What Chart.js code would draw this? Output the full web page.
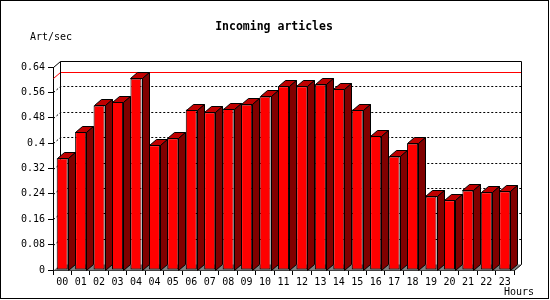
<!DOCTYPE html>
<html>
<head>
<meta charset="utf-8">
<script src="https://cdn.jsdelivr.net/npm/chart.js@4.4.1/dist/chart.umd.min.js"></script>
<style>
  html, body { margin: 0; padding: 0; background: #fff; }
  canvas { display: block; }
</style>
</head>
<body>
<canvas id="articlesChart" width="550" height="300"></canvas>
<script>
// hour labels as printed under the bars (the "04" really appears twice)
const hours = ['00', '01', '02', '03', '04', '04', '05', '06', '07', '08', '09', '10',
  '11', '12', '13', '14', '15', '16', '17', '18', '19', '20', '21', '22', '23'];

// incoming articles per second
const rates = [0.352, 0.435, 0.519, 0.531, 0.604, 0.393, 0.415, 0.506, 0.497, 0.509,
  0.522, 0.547, 0.579, 0.579, 0.585, 0.572, 0.506, 0.424, 0.358, 0.399,
  0.232, 0.220, 0.251, 0.245, 0.248];

const yMax = 0.64;
const yStep = 0.08;

const DX = 7, DY = -6; // depth of the 3d look
const monoFont = '"DejaVu Sans Mono", "Liberation Mono", monospace';

function px(v) {
  return Math.round(v) + 0.5;
}

// back wall, floor, dotted grid and the max line (behind the bars)
const backWall = {
  id: 'backWall',
  beforeDatasetsDraw(chart) {
    const { ctx, chartArea: a, scales: { y } } = chart;
    const L = px(a.left), R = px(a.right), T = px(a.top), B = px(a.bottom);
    ctx.save();
    ctx.lineWidth = 1;

    // floor
    ctx.fillStyle = '#808080';
    ctx.beginPath();
    ctx.moveTo(L, B);
    ctx.lineTo(R, B);
    ctx.lineTo(R + DX, B + DY);
    ctx.lineTo(L + DX, B + DY);
    ctx.closePath();
    ctx.fill();

    // dotted grid on the back plane
    ctx.strokeStyle = '#000';
    ctx.setLineDash([2, 2]);
    for (let v = yStep; v < yMax - yStep / 2; v += yStep) {
      const py = px(y.getPixelForValue(v));
      ctx.beginPath();
      ctx.moveTo(L, py);
      ctx.lineTo(L + DX, py + DY);
      ctx.lineTo(R + DX, py + DY);
      ctx.stroke();
    }
    ctx.setLineDash([]);

    // max value line
    const maxRate = Math.max(...rates);
    const my = px(y.getPixelForValue(maxRate));
    ctx.strokeStyle = '#ff0000';
    ctx.beginPath();
    ctx.moveTo(L, my);
    ctx.lineTo(L + DX, my + DY);
    ctx.lineTo(R + DX, my + DY);
    ctx.stroke();

    // frame of the box
    ctx.strokeStyle = '#000';
    ctx.beginPath();
    ctx.moveTo(L, T);
    ctx.lineTo(L + DX, T + DY);
    ctx.lineTo(R + DX, T + DY);
    ctx.lineTo(R + DX, B + DY);
    ctx.lineTo(R, B);
    ctx.moveTo(L + DX, T + DY);
    ctx.lineTo(L + DX, B + DY);
    ctx.stroke();
    ctx.restore();
  }
};

// top and side faces for every bar
const barFaces = {
  id: 'barFaces',
  afterDatasetsDraw(chart) {
    const { ctx } = chart;
    const meta = chart.getDatasetMeta(0);
    ctx.save();
    ctx.lineWidth = 1;
    ctx.strokeStyle = '#000';
    meta.data.forEach(bar => {
      const { x, y, base, width } = bar.getProps(['x', 'y', 'base', 'width'], true);
      const l = px(x - width / 2), r = px(x + width / 2);
      const t = px(y), b = px(base);

      ctx.fillStyle = '#c00000';
      ctx.beginPath();
      ctx.moveTo(l, t);
      ctx.lineTo(r, t);
      ctx.lineTo(r + DX, t + DY);
      ctx.lineTo(l + DX, t + DY);
      ctx.closePath();
      ctx.fill();
      ctx.stroke();

      ctx.fillStyle = '#800000';
      ctx.beginPath();
      ctx.moveTo(r, t);
      ctx.lineTo(r + DX, t + DY);
      ctx.lineTo(r + DX, b + DY);
      ctx.lineTo(r, b);
      ctx.closePath();
      ctx.fill();
      ctx.stroke();
    });
    ctx.restore();
  }
};

// titles and the outer frame
const labelsAndFrame = {
  id: 'labelsAndFrame',
  afterDraw(chart) {
    const { ctx } = chart;
    ctx.save();
    ctx.fillStyle = '#000';
    ctx.textBaseline = 'middle';

    ctx.font = 'bold 11.5px ' + monoFont;
    ctx.textAlign = 'center';
    ctx.fillText('Incoming articles', 274, 27);

    ctx.font = '10px ' + monoFont;
    ctx.textAlign = 'left';
    ctx.fillText('Art/sec', 30, 37);

    ctx.textAlign = 'right';
    ctx.fillText('Hours', 534, 292);

    ctx.strokeStyle = '#000';
    ctx.lineWidth = 1;
    ctx.strokeRect(0.5, 0.5, 548, 298);
    ctx.restore();
  }
};

new Chart(document.getElementById('articlesChart'), {
  type: 'bar',
  data: {
    labels: hours,
    datasets: [{
      label: 'Art/sec',
      data: rates,
      backgroundColor: '#ff0000',
      borderColor: '#000',
      borderWidth: 1,
      borderSkipped: false,
      barPercentage: 0.6,
      categoryPercentage: 1
    }]
  },
  options: {
    responsive: false,
    animation: false,
    devicePixelRatio: 1,
    layout: { padding: { left: 0, top: 67, right: 36, bottom: 0 } },
    plugins: {
      legend: { display: false },
      tooltip: { enabled: false }
    },
    scales: {
      x: {
        grid: { drawOnChartArea: false, tickLength: 5, color: '#000', offset: true },
        border: { color: '#000' },
        ticks: {
          color: '#000',
          font: { family: monoFont, size: 10 },
          padding: 1,
          maxRotation: 0,
          autoSkip: false
        },
        afterFit(scale) { scale.height = 30; }
      },
      y: {
        min: 0,
        max: yMax,
        grid: { drawOnChartArea: false, tickLength: 5, color: '#000' },
        border: { color: '#000' },
        ticks: {
          stepSize: yStep,
          color: '#000',
          font: { family: monoFont, size: 10 },
          padding: 3,
          callback: v => String(parseFloat(v.toFixed(2)))
        },
        afterFit(scale) { scale.width = 53; }
      }
    }
  },
  plugins: [backWall, barFaces, labelsAndFrame]
});
</script>
</body>
</html>
